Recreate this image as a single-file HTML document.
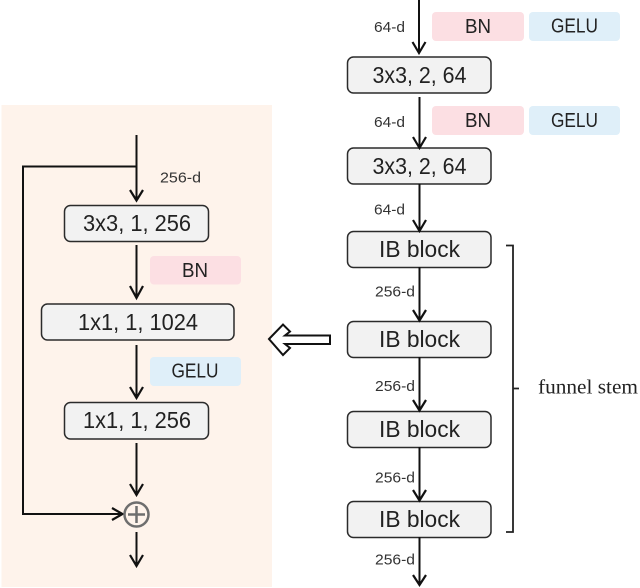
<!DOCTYPE html>
<html>
<head>
<meta charset="utf-8">
<style>
html,body{margin:0;padding:0;background:#fff}
svg{display:block}
text{font-family:"Liberation Sans",sans-serif;fill:#222}
.b{fill:#f2f2f2;stroke:#2b2b2b;stroke-width:1.5}
.l{fill:none;stroke:#111;stroke-width:2}
.h{fill:none;stroke:#111;stroke-width:2.2}
.t{font-size:23px;text-anchor:middle}
.s{font-size:15px;fill:#333}
.c{font-size:20px;text-anchor:middle}
</style>
</head>
<body>
<svg width="640" height="588" viewBox="0 0 640 588" xmlns="http://www.w3.org/2000/svg">
<rect width="640" height="588" fill="#fff"/>
<rect x="1.5" y="105" width="270.5" height="482" fill="#fef3eb"/>

<!-- colored tags -->
<rect x="150" y="256" width="91" height="28.5" rx="4" fill="#fcdfe3"/>
<rect x="150" y="357" width="91" height="29" rx="4" fill="#dfeff9"/>
<rect x="432" y="12" width="92" height="29" rx="4" fill="#fcdfe3"/>
<rect x="529" y="12" width="91" height="29" rx="4" fill="#dfeff9"/>
<rect x="432" y="106" width="92" height="29" rx="4" fill="#fcdfe3"/>
<rect x="529" y="106" width="91" height="29" rx="4" fill="#dfeff9"/>
<text class="c" x="195" y="277" textLength="26" lengthAdjust="spacingAndGlyphs">BN</text>
<text class="c" x="195" y="377.500" textLength="47" lengthAdjust="spacingAndGlyphs">GELU</text>
<text class="c" x="478" y="33" textLength="26" lengthAdjust="spacingAndGlyphs">BN</text>
<text class="c" x="574.500" y="32.500" textLength="47" lengthAdjust="spacingAndGlyphs">GELU</text>
<text class="c" x="478" y="127" textLength="26" lengthAdjust="spacingAndGlyphs">BN</text>
<text class="c" x="574.500" y="127" textLength="47" lengthAdjust="spacingAndGlyphs">GELU</text>

<!-- left boxes -->
<rect class="b" x="64.500" y="205.500" width="144" height="36" rx="6"/>
<rect class="b" x="41.500" y="304" width="192.500" height="36" rx="6"/>
<rect class="b" x="64.500" y="402.500" width="144" height="36.500" rx="6"/>
<text class="t" x="137" y="231" textLength="108" lengthAdjust="spacingAndGlyphs">3x3, 1, 256</text>
<text class="t" x="138" y="330" textLength="120" lengthAdjust="spacingAndGlyphs">1x1, 1, 1024</text>
<text class="t" x="137" y="428" textLength="108" lengthAdjust="spacingAndGlyphs">1x1, 1, 256</text>

<!-- left connectors -->
<path class="l" d="M136.500 135V200M136.500 166.500H23V514H121M136.500 245V297M136.500 345V397M136.500 443V494M136.500 532V565"/>
<path class="h" d="M130 190L136.500 200.500L143 190M130 286L136.500 298L143 286M130 387L136.500 398L143 387M130 484L136.500 495L143 484M130 555L136.500 566L143 555M112 508L122.500 514L112 520"/>
<circle cx="136.500" cy="514.500" r="12" fill="none" stroke="#6e6e6e" stroke-width="2.500"/>
<path d="M128 514.500H145M136.500 506V523" fill="none" stroke="#6e6e6e" stroke-width="2.500"/>
<text class="s" x="160" y="182.500" textLength="41" lengthAdjust="spacingAndGlyphs">256-d</text>

<!-- hollow arrow -->
<path d="M269 339L283 324.500L290 331.500L285 335.500H330V344H285L290 348L283 355Z" fill="#fff" stroke="#111" stroke-width="2"/>

<!-- right boxes -->
<rect class="b" x="347.500" y="57" width="143.500" height="36" rx="6"/>
<rect class="b" x="347.500" y="148" width="143.500" height="36" rx="6"/>
<rect class="b" x="347.500" y="231.500" width="143.500" height="36" rx="6"/>
<rect class="b" x="347.500" y="321.500" width="143.500" height="36" rx="6"/>
<rect class="b" x="347.500" y="411.500" width="143.500" height="36" rx="6"/>
<rect class="b" x="347.500" y="501.500" width="143.500" height="36" rx="6"/>
<text class="t" x="419.500" y="83" textLength="94" lengthAdjust="spacingAndGlyphs">3x3, 2, 64</text>
<text class="t" x="419.500" y="174" textLength="94" lengthAdjust="spacingAndGlyphs">3x3, 2, 64</text>
<text class="t" x="419.500" y="257" textLength="81" lengthAdjust="spacingAndGlyphs">IB block</text>
<text class="t" x="419.500" y="347" textLength="81" lengthAdjust="spacingAndGlyphs">IB block</text>
<text class="t" x="419.500" y="437" textLength="81" lengthAdjust="spacingAndGlyphs">IB block</text>
<text class="t" x="419.500" y="527" textLength="81" lengthAdjust="spacingAndGlyphs">IB block</text>

<!-- right connectors -->
<path class="l" d="M419 0V52M419.500 97V147M419.500 184V229M419.500 267V319M419.500 357V409M419.500 447V499M419.500 537V584"/>
<path class="h" d="M412.500 42L419 53L425.500 42M413 137L419.500 148L426 137M413 220L419.500 231L426 220M413 310L419.500 320.500L426 310M413 400L419.500 410.500L426 400M413 490L419.500 500.500L426 490M413 575L419.500 585L426 575"/>
<text class="s" x="374" y="32" textLength="31" lengthAdjust="spacingAndGlyphs">64-d</text>
<text class="s" x="374" y="127" textLength="31" lengthAdjust="spacingAndGlyphs">64-d</text>
<text class="s" x="374" y="214.500" textLength="31" lengthAdjust="spacingAndGlyphs">64-d</text>
<text class="s" x="375" y="296.500" textLength="40" lengthAdjust="spacingAndGlyphs">256-d</text>
<text class="s" x="375" y="391" textLength="40" lengthAdjust="spacingAndGlyphs">256-d</text>
<text class="s" x="375" y="482.500" textLength="40" lengthAdjust="spacingAndGlyphs">256-d</text>
<text class="s" x="375" y="564.500" textLength="40" lengthAdjust="spacingAndGlyphs">256-d</text>

<!-- bracket -->
<path d="M506 245.500H513V532H506M513 388.500H519" fill="none" stroke="#222" stroke-width="1.800"/>
<text x="538" y="393.500" style="font-family:'Liberation Serif',serif;font-size:20.500px" fill="#222" textLength="100" lengthAdjust="spacingAndGlyphs">funnel stem</text>
</svg>
</body>
</html>
